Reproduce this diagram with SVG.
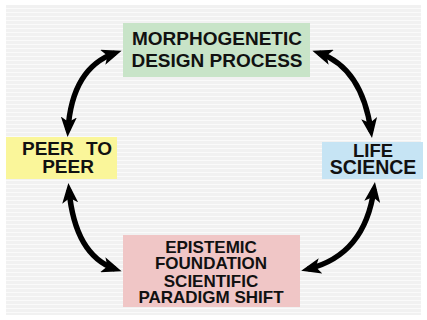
<svg xmlns="http://www.w3.org/2000/svg" width="427" height="320" viewBox="0 0 427 320">
<style>
text{font-family:"Liberation Sans",Arial,sans-serif;font-weight:bold;fill:#111;text-anchor:middle}
.conn{fill:none;stroke:#000;stroke-width:5.5;marker-start:url(#ah);marker-end:url(#ah)}
</style>
<defs>
<pattern id="lines" width="8" height="4" patternUnits="userSpaceOnUse">
<rect width="8" height="4" fill="#f1f1f1"/>
<rect y="0" width="8" height="1" fill="#fafafa"/>
</pattern>
<marker id="ah" viewBox="0 0 20 16" markerUnits="userSpaceOnUse" markerWidth="20" markerHeight="16" refX="13" refY="8" orient="auto-start-reverse">
<path d="M0,0 L20,8 L0,16 L5,8 z" fill="#000"/>
</marker>
</defs>
<rect width="427" height="320" fill="#fff"/>
<rect x="6" y="5" width="415" height="310" fill="url(#lines)"/>
<g id="connectors">
<path class="conn" d="M68,130 Q72,68 115,53"/>
<path class="conn" d="M319,53 Q362,68 371,131"/>
<path class="conn" d="M69,190 Q75,255 115,269"/>
<path class="conn" d="M374,189 Q365,255 308,269"/>
</g>
<g id="morphogenetic">
<rect x="123" y="23" width="187" height="54" fill="#c8e4c8"/>
<text x="217" y="45" font-size="19">MORPHOGENETIC</text>
<text x="217" y="67" font-size="19">DESIGN PROCESS</text>
</g>
<g id="peer">
<rect x="6" y="137" width="111" height="42" fill="#faf69a"/>
<text x="67" y="155" font-size="19" word-spacing="7">PEER TO</text>
<text x="68" y="173" font-size="19">PEER</text>
</g>
<g id="life">
<rect x="322" y="142" width="101" height="37" fill="#c6e4f4"/>
<text x="373" y="157" font-size="18.5">LIFE</text>
<text x="373" y="174" font-size="19.5">SCIENCE</text>
</g>
<g id="epistemic">
<rect x="123" y="235" width="177" height="72" fill="#f0c6c6"/>
<text x="211" y="253" font-size="17">EPISTEMIC</text>
<text x="211" y="269" font-size="17">FOUNDATION</text>
<text x="211" y="287" font-size="17">SCIENTIFIC</text>
<text x="211" y="303" font-size="17">PARADIGM SHIFT</text>
</g>
</svg>
